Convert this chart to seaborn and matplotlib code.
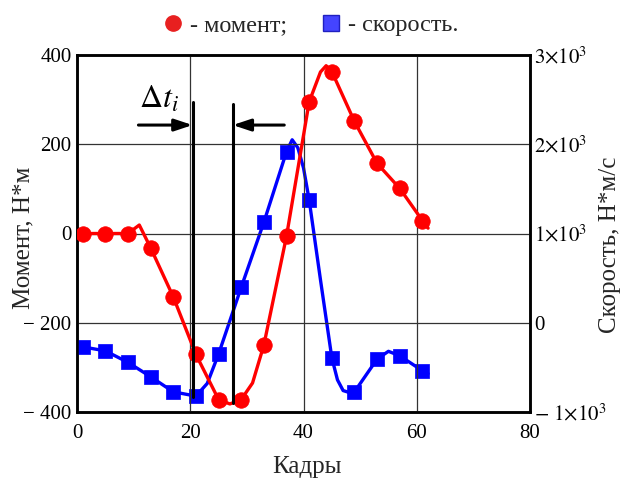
import numpy as np
import pandas as pd
import matplotlib
matplotlib.use('Agg')
import matplotlib.pyplot as plt
import seaborn as sns
from matplotlib.lines import Line2D

# ---- data ----
frames = [1, 5, 9, 13, 17, 21, 25, 29, 33, 37, 41, 45, 49, 53, 57, 61]
moment = [0, 0, 0, -32, -142, -271, -372, -372, -250, -6, 295, 363, 251, 157, 101, 29]
speed = [-270, -315, -444, -605, -774, -822, -351, 397, 1126, 1917, 1376, -392, -774, -407, -370, -538]

# traced curve vertices
moment_line_x = [1, 5, 9, 11, 13, 17, 21, 25, 27, 29, 31, 33, 37, 41, 43, 44, 45, 49, 53, 57, 61, 62]
moment_line_y = [0, 0, 0, 19, -32, -142, -271, -372, -382, -372, -335, -250, -6, 295, 362, 376, 363, 251, 157, 101, 29, 12]
speed_line_x = [1, 5, 9, 13, 17, 21, 23, 25, 29, 33, 37, 38, 39, 40, 41, 43, 45, 46, 47, 48, 49, 53, 55, 57, 61, 62]
speed_line_y = [-270, -315, -444, -605, -774, -822, -680, -351, 397, 1126, 1917, 2050, 1960, 1735, 1376, 480, -392,
                -640, -760, -780, -774, -407, -320, -370, -538, -570]

x_ticks = [0, 20, 40, 60, 80]
left_ticks = [-400, -200, 0, 200, 400]
left_labels = ['\u2212 400', '\u2212 200', '0', '200', '400']
right_ticks = [-1000, 0, 1000, 2000, 3000]
right_labels = [r'$-\ 1{\times}10^{3}$', '0', r'$1{\times}10^{3}$', r'$2{\times}10^{3}$', r'$3{\times}10^{3}$']

dt_start, dt_end = 20.4, 27.5

sns.set_theme(style='white')
plt.rcParams['font.family'] = ['Liberation Serif', 'DejaVu Serif']
plt.rcParams['mathtext.fontset'] = 'stix'

fig = plt.figure(figsize=(6.27, 4.78), dpi=100)
ax = fig.add_axes([77/627, 1-412/478, 453/627, 357/478])
ax2 = ax.twinx()
ax.set_zorder(ax2.get_zorder() + 1)
ax.patch.set_visible(False)

RED = '#ff0000'
BLUE = '#0000ff'

df_m = pd.DataFrame({'x': frames, 'y': moment})
df_s = pd.DataFrame({'x': frames, 'y': speed})
df_ml = pd.DataFrame({'x': moment_line_x, 'y': moment_line_y})
df_sl = pd.DataFrame({'x': speed_line_x, 'y': speed_line_y})

sns.lineplot(data=df_sl, x='x', y='y', ax=ax2, color=BLUE, lw=2.4, sort=False)
sns.scatterplot(data=df_s, x='x', y='y', ax=ax2, marker='s', s=105, color=BLUE, edgecolor=BLUE, linewidth=0.5, zorder=4)
sns.lineplot(data=df_ml, x='x', y='y', ax=ax, color=RED, lw=2.4, sort=False)
sns.scatterplot(data=df_m, x='x', y='y', ax=ax, marker='o', s=125, color=RED, edgecolor=RED, linewidth=0.5, zorder=4)

ax.set_xlim(0, 80)
ax.set_ylim(-400, 400)
ax2.set_ylim(-1000, 3000)
ax.set_xticks(x_ticks)
ax.set_yticks(left_ticks)
ax.set_yticklabels(left_labels)
ax2.set_yticks(right_ticks)
ax2.set_yticklabels(right_labels)
ax.set_xlabel('')
ax.set_ylabel('')
ax2.set_ylabel('')
ax.tick_params(axis='y', length=0, labelsize=15, colors='black', pad=4)
ax.tick_params(axis='x', length=0, labelsize=15, colors='black', pad=9)
ax2.tick_params(axis='y', length=0, labelsize=15, colors='black', pad=3)

ax.grid(True, color='#333333', lw=0.9)
ax2.grid(False)
for a in (ax, ax2):
    for sp in a.spines.values():
        sp.set_color('black')
        sp.set_linewidth(1.8)

# delta-t annotation
ax.plot([dt_start, dt_start], [-366, 295], color='black', lw=2.2, zorder=5)
ax.plot([dt_end, dt_end], [-380, 290], color='black', lw=2.2, zorder=5)
ap = dict(arrowstyle='-|>,head_length=0.9,head_width=0.3', lw=2.2, color='black', shrinkA=0, shrinkB=0)
ax.annotate('', xy=(dt_start, 243), xytext=(10.85, 243), arrowprops=ap, zorder=6)
ax.annotate('', xy=(dt_end, 243), xytext=(36.6, 243), arrowprops=ap, zorder=6)
ax.text(10.9, 281, r'$\Delta t_i$', fontsize=23, color='black', va='baseline', ha='left')

fig.text(23/627, 1-238/478, 'Момент, Н*м', rotation=90, ha='center', va='center', fontsize=18)
fig.text(610/627, 1-245/478, 'Скорость, Н*м/с', rotation=90, ha='center', va='center', fontsize=18)
fig.text(307/627, 1-467/478, 'Кадры', ha='center', va='center', fontsize=18)

handles = [Line2D([], [], marker='o', ls='none', color='#e82020', markersize=11),
           Line2D([], [], marker='s', ls='none', markerfacecolor='#4444ff', markeredgecolor='#2020c0', markersize=11)]
fig.legend(handles, ['- момент;', '- скорость.'], loc='center', bbox_to_anchor=(311/627, 1-25/478), ncol=2,
           frameon=False, fontsize=17.5, handlelength=0.8, handletextpad=0.3, columnspacing=1.4)

fig.savefig('out.png', dpi=100)
